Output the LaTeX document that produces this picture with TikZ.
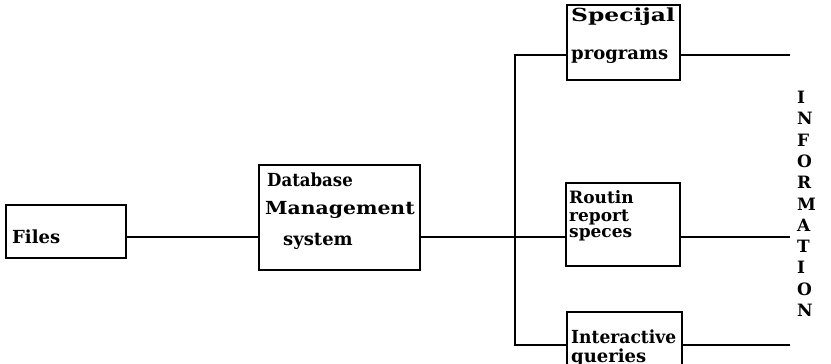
\documentclass[tikz,border=0pt]{standalone}
\usepackage{fontspec}
\setmainfont{DejaVu Serif}
\begin{document}
\begin{tikzpicture}[x=1pt,y=-1pt,
  box/.style={draw,line width=2.3pt,inner sep=0pt,rectangle},
  lbl/.style={anchor=west,inner sep=0pt,font=\fontsize{18}{18}\selectfont\bfseries},
  small/.style={lbl,font=\fontsize{17}{17}\selectfont\bfseries},
  wire/.style={line width=2.3pt}]
\useasboundingbox (0,0) rectangle (831,364);
% boxes
\node[box,minimum width=120pt,minimum height=53pt] (files) at (66,231.5) {};
\node[box,minimum width=161pt,minimum height=105pt] (dbms) at (339.5,217.5) {};
\node[box,minimum width=113pt,minimum height=75pt] (spec) at (623.5,42.5) {};
\node[box,minimum width=114pt,minimum height=83pt] (rout) at (623,224.5) {};
\node[box,minimum width=115pt,minimum height=60pt] (inter) at (624.5,342) {};
% texts
\node[lbl] (tfiles) at (12,237) {Files};
\node[lbl] (tdb1) at (267,180) {\scalebox{0.92}[1]{Database}};
\node[lbl] (tdb2) at (265,210) {\scalebox{1.13}[1]{Management}};
\node[lbl,anchor=center] (tdb3) at (318,241) {system};
\node[lbl] (tsp1) at (571,17) {\scalebox{1.3}[1]{Specijal}};
\node[lbl] (tsp2) at (571,57) {programs};
\node[small] (tro1) at (569,197) {Routin};
\node[small] (tro2) at (569,217) {report};
\node[small] (tro3) at (569,235) {speces};
\node[lbl] (tin1) at (571,337) {\scalebox{0.95}[1]{Interactive}};
\node[lbl] (tin2) at (571,358) {queries};
\node[anchor=north west,inner sep=0pt,align=left,font=\fontsize{17}{21.3}\selectfont\bfseries] (info) at (797,91)
  {I\\N\\F\\O\\R\\M\\A\\T\\I\\O\\N};
% connectors
\coordinate (j) at (515,237);
\coordinate (bt) at (515,55);
\coordinate (bb) at (515,345);
\coordinate (o1) at (790,55);
\coordinate (o2) at (790,237);
\coordinate (o3) at (790,345);
\draw[wire] (files.east |- j) -- (dbms.west |- j);
\draw[wire] (dbms.east |- j) -- (rout.west |- j);
\draw[wire] (spec.west |- bt) -- (bt) -- (bb) -- (inter.west |- bb);
\draw[wire] (spec.east |- o1) -- (o1);
\draw[wire] (rout.east |- o2) -- (o2);
\draw[wire] (inter.east |- o3) -- (o3);
\end{tikzpicture}
\end{document}
